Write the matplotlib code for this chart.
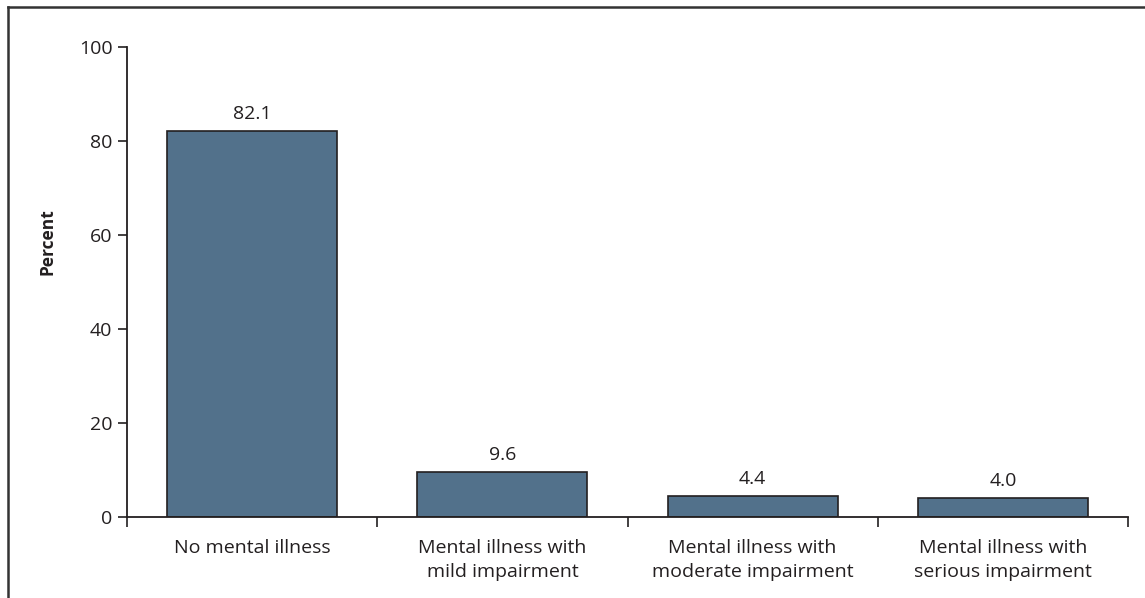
import matplotlib.pyplot as plt
from matplotlib.lines import Line2D
from matplotlib.ticker import FixedLocator

plt.rcParams["font.family"] = ["Open Sans", "DejaVu Sans"]

CATEGORIES = [
    "No mental illness",
    "Mental illness with\nmild impairment",
    "Mental illness with\nmoderate impairment",
    "Mental illness with\nserious impairment",
]
PERCENTS = [82.1, 9.6, 4.4, 4.0]
Y_TICKS = [0, 20, 40, 60, 80, 100]

BAR_COLOR = "#52718b"
INK = "#231f20"


def main():
    fig = plt.figure(figsize=(11.45, 5.98), dpi=100)
    ax = fig.add_axes([0.1109, 0.1355, 0.8743, 0.7859])

    x = list(range(len(CATEGORIES)))
    bars = ax.bar(x, PERCENTS, width=0.68, color=BAR_COLOR, edgecolor=INK, linewidth=1.2)

    for bar, val in zip(bars, PERCENTS):
        ax.annotate(f"{val:.1f}", (bar.get_x() + bar.get_width() / 2, val),
                    xytext=(0, 6), textcoords="offset points",
                    ha="center", va="bottom", fontsize=14, color=INK)

    ax.set_xlim(-0.5, len(CATEGORIES) - 0.5)
    ax.set_ylim(0, 100)
    ax.set_yticks(Y_TICKS)
    ax.set_xticks(x)
    ax.set_xticklabels(CATEGORIES, fontsize=14, color=INK, linespacing=1.45)
    ax.xaxis.set_minor_locator(FixedLocator([i - 0.5 for i in range(len(CATEGORIES) + 1)]))
    ax.tick_params(axis="x", which="major", length=0, pad=16)
    ax.tick_params(axis="x", which="minor", length=7, width=1.2, color=INK, direction="out")
    ax.tick_params(axis="y", length=6.5, width=1.2, color=INK, pad=4, labelsize=14, labelcolor=INK)

    ax.set_ylabel("Percent", fontsize=12.5, fontweight="bold", color=INK)
    ax.yaxis.set_label_coords(-0.070, 0.585)

    for side in ("top", "right"):
        ax.spines[side].set_visible(False)
    for side in ("left", "bottom"):
        ax.spines[side].set_color(INK)
        ax.spines[side].set_linewidth(1.3)

    # outer frame: only the top and left edges are visible in the original
    fig.add_artist(Line2D([8 / 1145, 1], [1 - 7 / 598, 1 - 7 / 598], color="#333333", linewidth=1.8))
    fig.add_artist(Line2D([8 / 1145, 8 / 1145], [0, 1 - 7 / 598], color="#333333", linewidth=1.8))

    fig.savefig("out.png", dpi=100)
    plt.close(fig)


if __name__ == "__main__":
    main()
